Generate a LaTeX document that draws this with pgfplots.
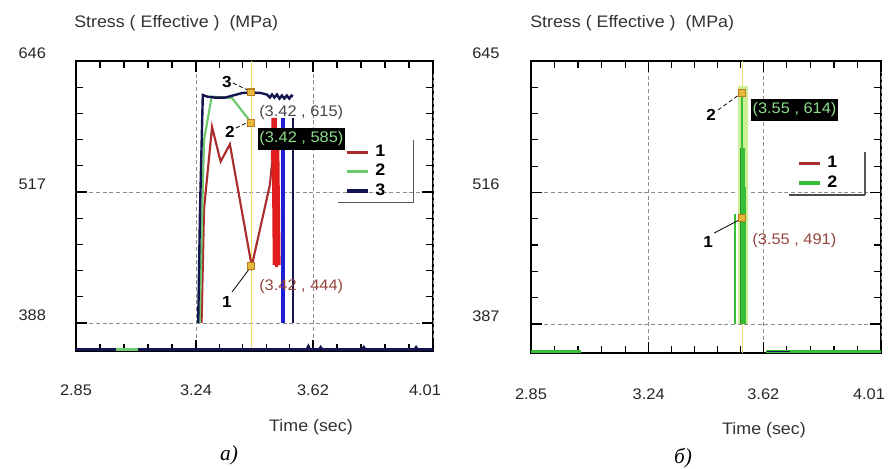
\documentclass[border=0pt]{standalone}
\usepackage{fontspec}
\setmainfont{Liberation Sans}[FakeStretch=1.07]
\newfontfamily\capfont{Liberation Serif}
\usepackage{pgfplots}
\pgfplotsset{compat=1.18}
\definecolor{redA}{RGB}{170,45,45}
\definecolor{redbar}{RGB}{225,30,30}
\definecolor{greenA}{RGB}{110,200,110}
\definecolor{navyA}{RGB}{20,20,80}
\definecolor{bluebar}{RGB}{30,30,210}
\definecolor{greenR}{RGB}{55,190,55}
\definecolor{greenRd}{RGB}{40,150,40}
\definecolor{halo}{RGB}{205,238,150}
\definecolor{cursorc}{RGB}{238,220,110}
\definecolor{mkfill}{RGB}{230,185,60}
\definecolor{mkdraw}{RGB}{185,125,30}
\definecolor{coordgreen}{RGB}{140,220,140}
\definecolor{coordred}{RGB}{150,70,60}
\definecolor{coordgray}{RGB}{70,70,70}
\pgfplotsset{
 stressax/.style={
  scale only axis,
  xmin=2.85, xmax=4.01,
  axis line style={line width=1.7pt},
  tick align=inside,
  major tick length=8pt, minor tick length=5pt,
  tick style={black, line width=1.1pt},
  minor tick style={line width=0.9pt},
  xtick={2.85,3.24,3.62}, xticklabels={2.85,3.24,3.62},
  extra x ticks={4.01}, extra x tick labels={4.01},
  minor xtick={2.928,3.006,3.084,3.162,3.316,3.392,3.468,3.544,3.698,3.776,3.854,3.932},
  grid=major,
  major grid style={dash pattern=on 3pt off 2pt, gray!90, line width=0.5pt},
  tick label style={font=\fontsize{11.5}{13}\selectfont, text=black!85},
  legend style={draw=none, fill=none, inner sep=0pt, anchor=north west,
    font=\bfseries\fontsize{12.5}{14}\selectfont,
    nodes={inner sep=1.3pt, text height=9pt, text depth=3pt}, column sep=3pt},
  legend image code/.code={\draw[##1, line width=2.6pt] (0cm,0cm) -- (0.55cm,0cm);},
 },
 mk/.style={only marks, mark=square*, mark size=2.6pt, mark options={fill=mkfill, draw=mkdraw, line width=0.8pt, solid}, forget plot},
}
\begin{document}
\begin{tikzpicture}[x=0.75pt,y=0.75pt]
\useasboundingbox (0,0) rectangle (888,468);
% ---------------- left panel
\begin{axis}[stressax, at={(57pt,87.75pt)}, anchor=south west,
 width=267.75pt, height=217.5pt, ymin=360.4, ymax=646,
 ytick={388,517,646}, yticklabels={388,517,646},
 minor ytick={413.8,439.6,465.4,491.2,542.8,568.6,594.4,620.2},
 yticklabel style={xshift=-19pt, yshift=6pt},
 xticklabel style={yshift=-22pt},
 extra x tick style={xticklabel style={xshift=-6pt}},
 legend style={at={(0.7535,0.7197)}},
]
\addplot[cursorc, line width=1pt, forget plot] coordinates {(3.42,360.4)(3.42,646)};
\addplot[navyA, line width=2pt, forget plot] coordinates {(2.85,361.8)(3.60,361.8)(3.605,365)(3.61,361.8)(3.64,361.8)(3.645,364)(3.65,361.8)(3.78,361.8)(3.785,364)(3.79,361.8)(3.95,361.8)(3.955,364)(3.96,361.8)(4.01,361.8)};
\addplot[greenA, line width=2pt, forget plot] coordinates {(2.98,361.8)(3.05,361.8)};
\addplot[redA, line width=1.6pt] coordinates {(3.258,388)(3.266,500)(3.292,581)(3.320,547)(3.350,564)(3.421,444)(3.480,524)(3.488,548)};
\addlegendentry{1}
\addplot[redbar, line width=2.2pt, forget plot] coordinates {(3.488,548)(3.490,590)(3.494,445)(3.498,590)(3.502,443)(3.506,560)(3.510,445)};
\addplot[greenA, line width=1.6pt] coordinates {(3.252,388)(3.262,520)(3.266,568)(3.291,611)(3.357,609.5)(3.42,585)};
\addlegendentry{2}
\addplot[navyA, line width=1.8pt] coordinates {(3.247,388)(3.253,500)(3.262,612.5)(3.275,611)(3.30,610)(3.335,610)(3.36,612)(3.39,614.5)(3.42,615)(3.45,614.5)(3.47,613)(3.48,610)(3.487,613)(3.495,610)(3.503,613)(3.511,609)(3.519,612)(3.527,609)(3.535,612)(3.543,609)(3.55,612)(3.555,611)};
\addlegendentry{3}
\addplot[bluebar, line width=3pt, forget plot] coordinates {(3.524,590)(3.524,388)};
\addplot[navyA, line width=1.8pt, forget plot] coordinates {(3.555,590)(3.555,388)};
\addplot[mk] coordinates {(3.42,615)(3.42,585)(3.42,444)};
% annotations
\draw[black, line width=0.6pt, densely dashed] (axis cs:3.360,624.3) -- (axis cs:3.414,616.5);
\node[font=\bfseries\fontsize{12}{14}\selectfont] at (axis cs:3.3406,625.3) {3};
\draw[black, line width=0.6pt, densely dashed] (axis cs:3.370,580) -- (axis cs:3.414,586.5);
\node[font=\bfseries\fontsize{12}{14}\selectfont] at (axis cs:3.350,576.1) {2};
\draw[black, line width=0.6pt] (axis cs:3.357,418.5) -- (axis cs:3.415,442);
\node[font=\bfseries\fontsize{12}{14}\selectfont] at (axis cs:3.3406,408.7) {1};
\node[anchor=west, inner sep=0pt, text=coordgray, font=\fontsize{11.5}{13}\selectfont] at (axis cs:3.4446,594.8) {(3.42 , 615)};
\node[anchor=west, fill=black, inner xsep=1pt, inner ysep=3pt, text=coordgreen, font=\fontsize{11.5}{13}\selectfont] at (axis cs:3.441,569.2) {(3.42 , 585)};
\node[anchor=west, inner sep=0pt, text=coordred, font=\fontsize{11.5}{13}\selectfont] at (axis cs:3.4446,423.4) {(3.42 , 444)};
\draw[gray!70!black, line width=0.8pt] (axis cs:3.948,568.2) -- (axis cs:3.948,506.2) -- (axis cs:3.701,506.2);
\end{axis}
% ---------------- right panel
\begin{axis}[stressax, at={(398.25pt,86.25pt)}, anchor=south west,
 width=262.5pt, height=219pt, ymin=358.5, ymax=645,
 ytick={387,516,645}, yticklabels={387,516,645},
 minor ytick={412.8,438.6,464.4,490.2,541.8,567.6,593.4,619.2},
 yticklabel style={xshift=-20pt, yshift=6pt},
 xticklabel style={yshift=-23.5pt},
 extra x tick style={xticklabel style={xshift=-9pt}},
 legend style={at={(0.76,0.683)}},
]
\addplot[cursorc, line width=1pt, forget plot] coordinates {(3.55,358.5)(3.55,645)};
\addplot[greenR, line width=2.2pt, forget plot] coordinates {(2.85,359.8)(3.015,359.8)};
\addplot[greenR, line width=2.2pt, forget plot] coordinates {(3.63,359.8)(4.01,359.8)};
\addplot[navyA, line width=1pt, forget plot] coordinates {(3.632,359.8)(3.71,359.8)};
\addplot[redA, line width=1.6pt] coordinates {(3.55,387)(3.55,491)};
\addlegendentry{1}
\addplot[halo, line width=7.5pt, forget plot] coordinates {(3.551,387)(3.551,620)};
\addplot[greenR, line width=1.2pt, forget plot] coordinates {(3.526,387)(3.526,495)};
\addplot[greenRd, line width=1pt, forget plot] coordinates {(3.545,387)(3.545,560)};
\addplot[greenR, line width=1.5pt, forget plot] coordinates {(3.558,387)(3.558,521)};
\addplot[greenR, line width=3pt, forget plot] coordinates {(3.552,387)(3.552,560)};
\addplot[greenR, line width=1.8pt] coordinates {(3.55,387)(3.55,614)};
\addlegendentry{2}
\addplot[mk] coordinates {(3.55,614)(3.55,491)};
\draw[black, line width=0.6pt, densely dashed] (axis cs:3.470,597) -- (axis cs:3.543,612.6);
\node[font=\bfseries\fontsize{12}{14}\selectfont] at (axis cs:3.447,592) {2};
\draw[black, line width=0.6pt] (axis cs:3.457,476.2) -- (axis cs:3.546,490);
\node[font=\bfseries\fontsize{12}{14}\selectfont] at (axis cs:3.437,467.4) {1};
\node[anchor=west, fill=black, inner xsep=1pt, inner ysep=3pt, text=coordgreen, font=\fontsize{11.5}{13}\selectfont] at (axis cs:3.579,597) {(3.55 , 614)};
\node[anchor=west, inner sep=0pt, text=coordred, font=\fontsize{11.5}{13}\selectfont] at (axis cs:3.583,469.3) {(3.55 , 491)};
\draw[gray!70!black, line width=0.8pt] (axis cs:3.957,555.7) -- (axis cs:3.957,513.5);
\draw[gray!60!black, line width=1.2pt] (axis cs:3.957,513.5) -- (axis cs:3.705,513.5);
\end{axis}
% ---------------- titles and captions
\node[anchor=west, inner sep=0pt, text=black!80, font=\fontsize{12.5}{15}\selectfont] at (74,445) {Stress ( Effective )\ \ (MPa)};
\node[anchor=west, inner sep=0pt, text=black!80, font=\fontsize{12.5}{15}\selectfont] at (530,445) {Stress ( Effective )\ \ (MPa)};
\node[text=black!80, font=\fontsize{12.5}{15}\selectfont] at (311,41) {Time (sec)};
\node[text=black!80, font=\fontsize{12.5}{15}\selectfont] at (764,38) {Time (sec)};
\node[font=\capfont\itshape\fontsize{16}{18}\selectfont] at (229,13) {а)};
\node[font=\capfont\itshape\fontsize{16}{18}\selectfont] at (683,10) {б)};
\end{tikzpicture}
\end{document}
